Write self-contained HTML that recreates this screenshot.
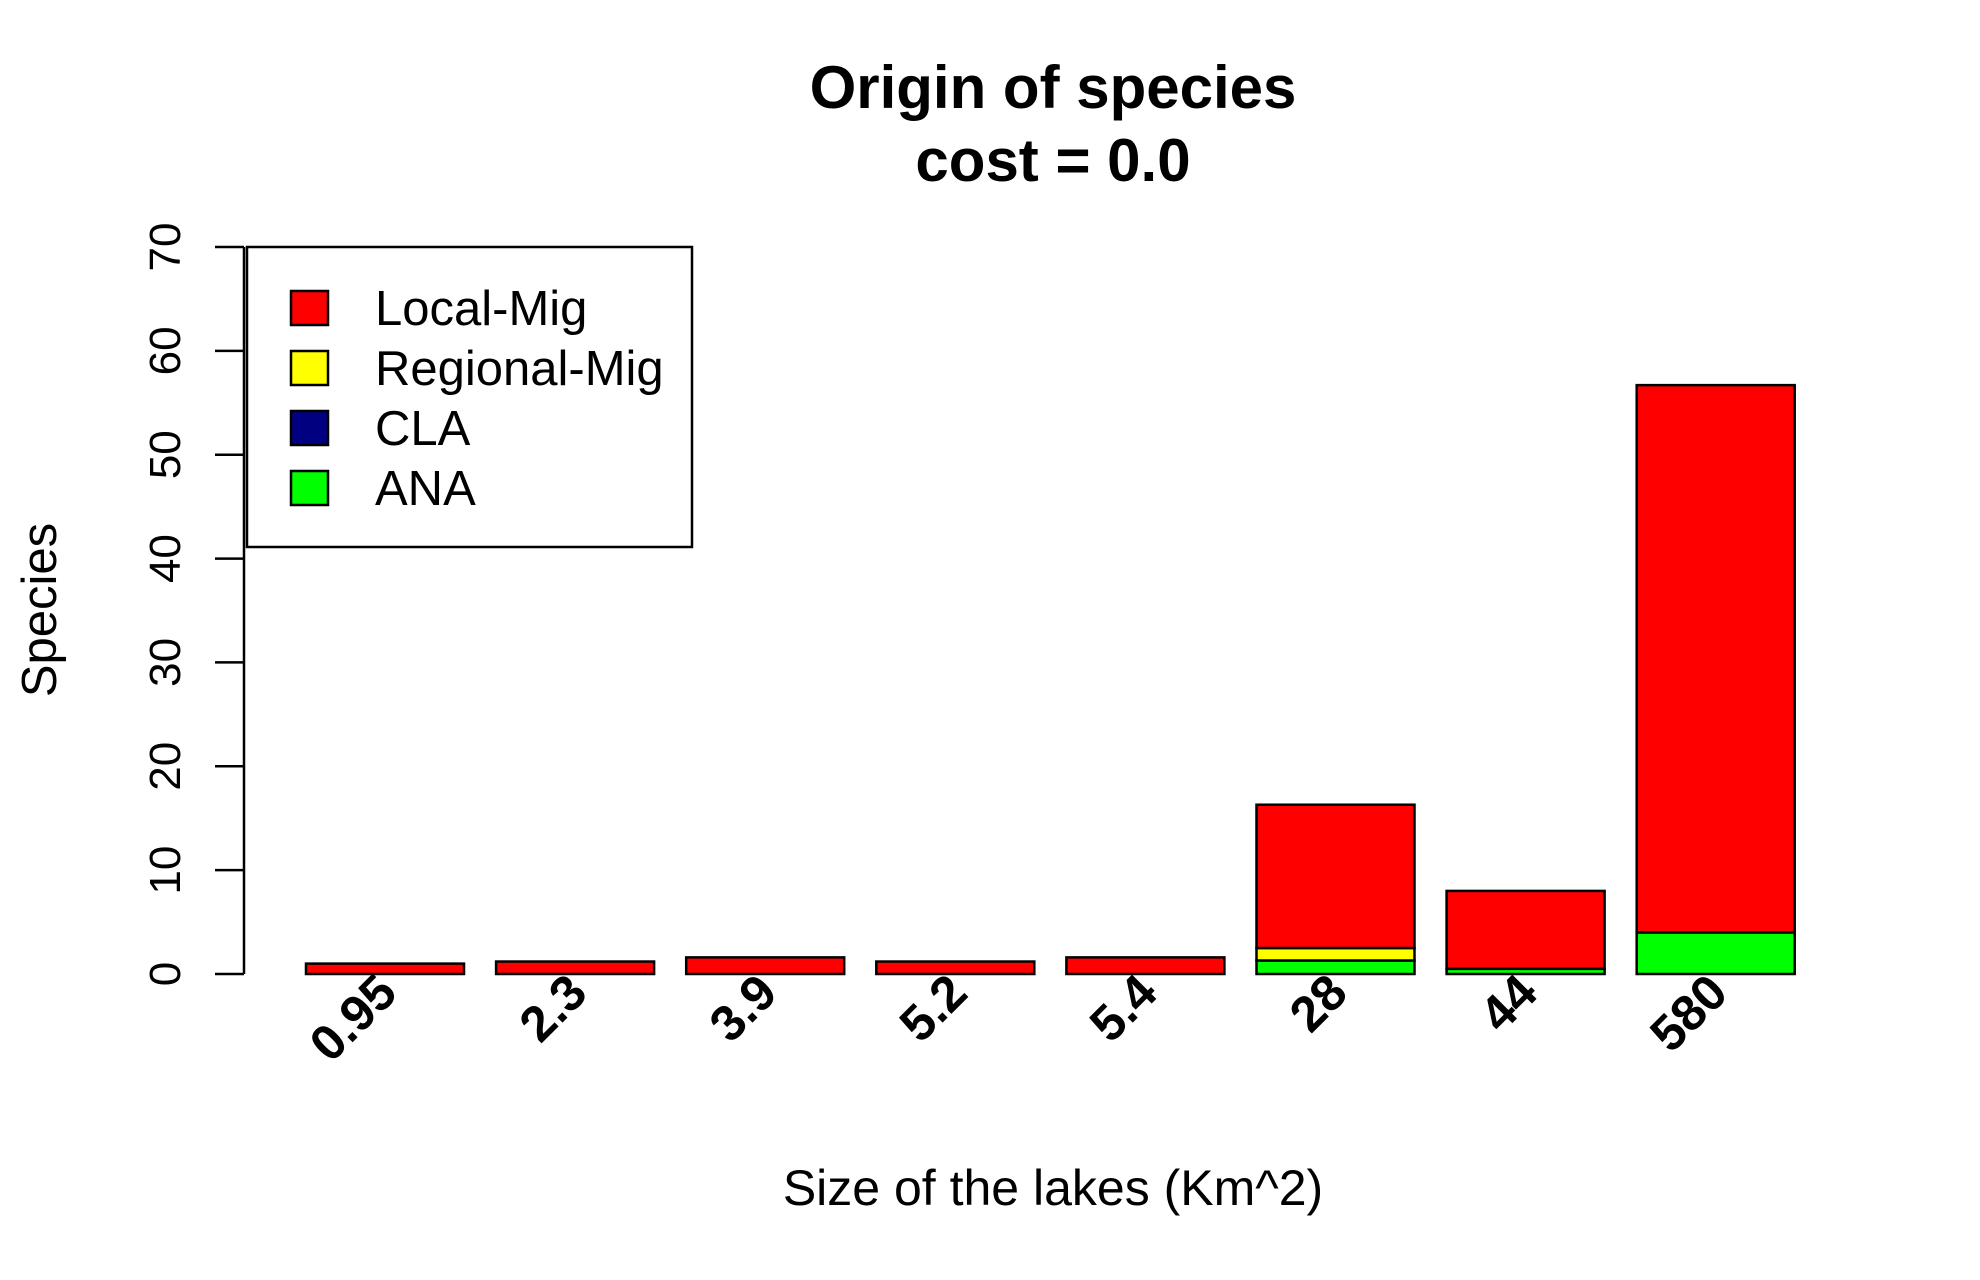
<!DOCTYPE html>
<html><head><meta charset="utf-8"><style>
html,body{margin:0;padding:0;background:#fff;}
svg{display:block;font-family:"Liberation Sans",sans-serif;}
</style></head><body>
<svg id="chart" width="1980" height="1280" viewBox="0 0 1980 1280">
<text x="1053" y="108" font-size="60" font-weight="bold" text-anchor="middle">Origin of species</text>
<text x="1053" y="181" font-size="60" font-weight="bold" text-anchor="middle">cost = 0.0</text>
<text x="1053" y="1205" font-size="50" text-anchor="middle">Size of the lakes (Km^2)</text>
<text transform="translate(56,610) rotate(-90)" font-size="49" text-anchor="middle">Species</text>
<g id="axis"></g>
<g id="bars"></g>
<g id="xlabels"></g>
<g>
<rect x="247" y="247" width="445" height="300" fill="#fff" stroke="#000" stroke-width="2.5"/>
<g id="legend"></g>
</g>
</svg>
<script>
const categories = ["0.95","2.3","3.9","5.2","5.4","28","44","580"];
const ana = [0,0,0,0,0,1.3,0.5,4.0];
const cla = [0,0,0,0,0,0,0,0];
const regional = [0,0,0,0,0,1.2,0,0];
const local = [1.0,1.2,1.6,1.2,1.6,13.8,7.5,52.7];
const yTicks = [0,10,20,30,40,50,60,70];
const seriesNames = ["Local-Mig","Regional-Mig","CLA","ANA"];

const NS="http://www.w3.org/2000/svg";
const y0=974, pxPer=(974-247)/70;
function y(v){return y0-v*pxPer;}
function xLeft(i){return 306+i*190.1;}
const bw=158;
function mk(tag,attrs,parent){const e=document.createElementNS(NS,tag);for(const k in attrs)e.setAttribute(k,attrs[k]);parent.appendChild(e);return e;}

const axis=document.getElementById('axis');
const al=mk('line',{x1:244,x2:244,y1:y(0),y2:y(70),stroke:'#000','stroke-width':2.5},axis);


yTicks.forEach(t=>{
  const l=mk('line',{x1:215,x2:244,y1:y(t),y2:y(t),stroke:'#000','stroke-width':2.5},axis);
  
  
  const tx=mk('text',{transform:`translate(180,${y(t)}) rotate(-90)`,'font-size':44,'text-anchor':'middle'},axis);
  tx.textContent=t;
  
  
});

const bars=document.getElementById('bars');
const stacks=[[ana,'#00ff00'],[cla,'#000080'],[regional,'#ffff00'],[local,'#ff0000']];
categories.forEach((c,i)=>{
  let base=0;
  stacks.forEach(([arr,col])=>{
    const v=arr[i];
    if(v>0){
      const r=mk('rect',{x:xLeft(i),y:y(base+v),width:bw,height:v*pxPer,fill:col,stroke:'#000','stroke-width':2.5},bars);
      
      
    }
    base+=v;
  });
  const tx=mk('text',{transform:`translate(${xLeft(i)+bw/2-11},${y0-4}) rotate(-45)`,'font-size':50,'font-weight':'bold','text-anchor':'end','dominant-baseline':'hanging'},document.getElementById('xlabels'));
  tx.textContent=c;
  
  
});

const lg=document.getElementById('legend');
const cols=['#ff0000','#ffff00','#000080','#00ff00'];
seriesNames.forEach((n,i)=>{
  const cy=308+i*60;
  const r=mk('rect',{x:291,y:cy-17,width:37,height:34,fill:cols[i],stroke:'#000','stroke-width':2.5},lg);
  
  
  const t=mk('text',{x:375,y:cy+17,'font-size':49},lg);
  t.textContent=n;
  
  
});
</script>
</body></html>
